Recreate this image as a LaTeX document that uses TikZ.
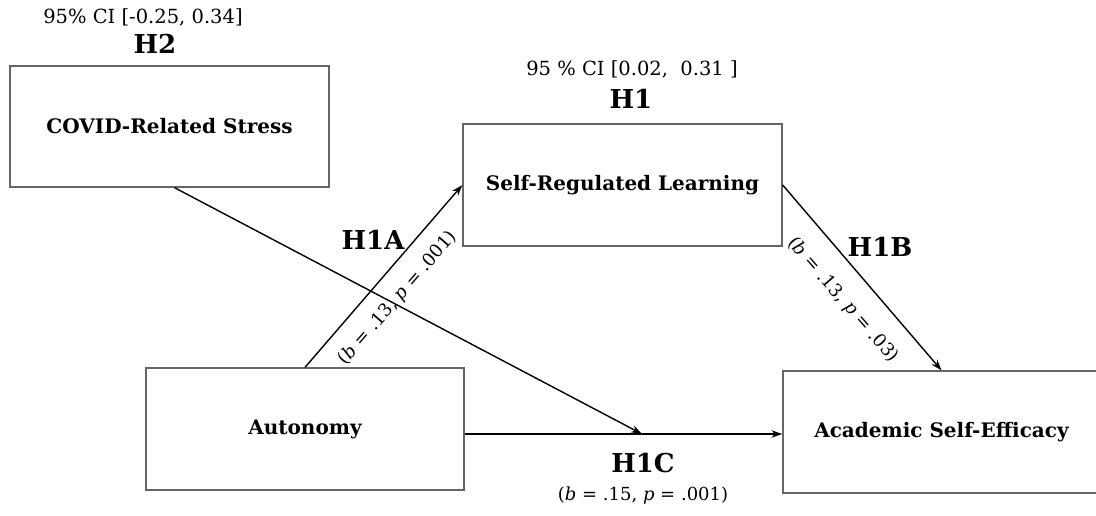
\documentclass[tikz,border=0pt]{standalone}
\usepackage{fontspec}
\setmainfont{DejaVu Serif}
\usetikzlibrary{arrows.meta}
\begin{document}
\begin{tikzpicture}[x=1pt,y=-1pt,
  box/.style={draw=black!60, line width=1.3pt, inner sep=0pt, font=\fontsize{20}{23}\selectfont\bfseries},
  hyp/.style={font=\fontsize{26}{29}\selectfont\bfseries, inner sep=0pt},
  small/.style={font=\fontsize{18}{21}\selectfont, inner sep=0pt},
  ci/.style={font=\fontsize{19.5}{22}\selectfont, inner sep=0pt},
  arr/.style={line width=1.4pt, -{Stealth[length=11pt,width=7.5pt]}}]
\useasboundingbox (0,0) rectangle (1096,516);
\node[box, minimum width=319pt, minimum height=121pt] (covid) at (169.5,126.5) {COVID-Related Stress};
\node[box, minimum width=319pt, minimum height=122pt] (srl) at (622.5,185) {Self-Regulated Learning};
\node[box, minimum width=318pt, minimum height=122pt] (aut) at (305,429) {Autonomy};
\node[box, minimum width=317pt, minimum height=122pt] (ase) at (941.5,432) {Academic Self-Efficacy};
\coordinate (h1cpt) at (642,434);
\draw[arr] (aut.north) -- (srl.west);
\draw[arr] (srl.east) -- (ase.north);
\draw[arr] ([xshift=5pt]covid.south) -- (h1cpt);
\draw[arr] (aut.east |- h1cpt) -- (ase.west |- h1cpt);
\node[ci] (ci2) at (143,17) {95\% CI [-0.25, 0.34]};
\node[hyp] (h2) at (155,44) {H2};
\node[ci] (ci1) at (632,69) {95 \% CI [0.02,\ \ 0.31 ]};
\node[hyp] (h1) at (631,99) {H1};
\node[hyp] (h1a) at (373,240) {H1A};
\node[hyp] (h1b) at (880,247) {H1B};
\node[hyp] (h1c) at (643,463) {H1C};
\node[small] (b15) at (643,496) {(\textit{b} = .15, \textit{p} = .001)};
\node[small, rotate=49] (b13a) at (398,298) {(\textit{b} = .13, \textit{p} = .001)};
\node[small, rotate=-49] (b13b) at (843,300) {(\textit{b} = .13, \textit{p} = .03)};
\end{tikzpicture}
\end{document}
